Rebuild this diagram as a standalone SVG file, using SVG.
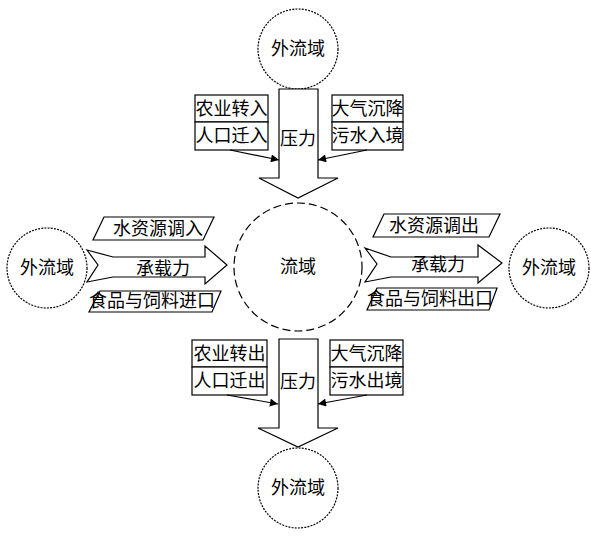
<svg xmlns="http://www.w3.org/2000/svg" width="591" height="540" viewBox="0 0 591 540">
<style>
text{font-family:"Liberation Serif","Noto Sans CJK SC",serif;font-size:18px;fill:#000;text-anchor:middle;dominant-baseline:central}
.outer{fill:#fff;stroke:#000;stroke-width:1.2;stroke-dasharray:2 1.2}
.shape{fill:#fff;stroke:#000;stroke-width:1.2}
.conn{stroke:#000;stroke-width:1.2;fill:none;marker-end:url(#ah)}
</style>
<defs>
<marker id="ah" viewBox="0 0 10 10" refX="10" refY="5" markerWidth="10" markerHeight="8" markerUnits="userSpaceOnUse" orient="auto">
<path d="M0,0 L10,5 L0,10 z" fill="#000"/>
</marker>
</defs>
<rect width="591" height="540" fill="#fff"/>

<g id="center">
<circle cx="298" cy="267" r="64" fill="#fff" stroke="#000" stroke-width="1.2" stroke-dasharray="8 4"/>
<text x="298" y="267">流域</text>
</g>

<g id="outer-top"><circle class="outer" cx="298" cy="49" r="40"/><text x="298" y="49">外流域</text></g>
<g id="outer-bottom"><circle class="outer" cx="298" cy="488" r="40"/><text x="298" y="488">外流域</text></g>
<g id="outer-left"><circle class="outer" cx="47" cy="268" r="40"/><text x="47" y="268">外流域</text></g>
<g id="outer-right"><circle class="outer" cx="549" cy="268" r="40"/><text x="549" y="268">外流域</text></g>

<g id="arrow-top">
<polygon class="shape" points="279,89 318,89 318,178 338,178 298,198 259,178 279,178"/>
<text x="298" y="139">压力</text>
</g>
<g id="arrow-bottom">
<polygon class="shape" points="279,339 318,339 318,428 338,428 298,447 258,428 279,428"/>
<text x="298" y="382">压力</text>
</g>
<g id="arrow-left">
<polygon class="shape" points="87,250 113,257 205,257 205,246 227,265 205,284 205,277 113,277 87,282 98,265"/>
<text x="163" y="269">承载力</text>
</g>
<g id="arrow-right">
<polygon class="shape" points="365,248 391,257 478,257 478,245 502,263 478,283 478,277 391,277 365,282 377,264"/>
<text x="438" y="265">承载力</text>
</g>

<g id="box-top-left">
<rect class="shape" x="195" y="95" width="73" height="27"/>
<rect class="shape" x="195" y="122" width="73" height="28"/>
<text x="231.5" y="109">农业转入</text>
<text x="231.5" y="136">人口迁入</text>
</g>
<g id="box-top-right">
<rect class="shape" x="332" y="95" width="71" height="27"/>
<rect class="shape" x="332" y="122" width="71" height="28"/>
<text x="367.5" y="109">大气沉降</text>
<text x="367.5" y="136">污水入境</text>
</g>
<g id="box-bottom-left">
<rect class="shape" x="192" y="340" width="75" height="27"/>
<rect class="shape" x="192" y="367" width="75" height="28"/>
<text x="229.5" y="354">农业转出</text>
<text x="229.5" y="381">人口迁出</text>
</g>
<g id="box-bottom-right">
<rect class="shape" x="330" y="340" width="73" height="27"/>
<rect class="shape" x="330" y="367" width="73" height="28"/>
<text x="366.5" y="354">大气沉降</text>
<text x="366.5" y="381">污水出境</text>
</g>

<g id="para-left-top">
<polygon class="shape" points="104,217 214,217 203,240 93,240"/>
<text x="158" y="229">水资源调入</text>
</g>
<g id="para-left-bottom">
<polygon class="shape" points="100,291 221,291 212,312 89,312"/>
<text x="152" y="301">食品与饲料进口</text>
</g>
<g id="para-right-top">
<polygon class="shape" points="384,214 500,214 489,237 373,237"/>
<text x="434" y="226">水资源调出</text>
</g>
<g id="para-right-bottom">
<polygon class="shape" points="377,288 497,288 489,310 367,310"/>
<text x="430" y="299">食品与饲料出口</text>
</g>

<g id="connectors">
<line class="conn" x1="230" y1="150" x2="279" y2="160"/>
<line class="conn" x1="367" y1="150" x2="318" y2="160"/>
<line class="conn" x1="227" y1="395" x2="278" y2="404"/>
<line class="conn" x1="367" y1="395" x2="318" y2="404"/>
</g>
</svg>
